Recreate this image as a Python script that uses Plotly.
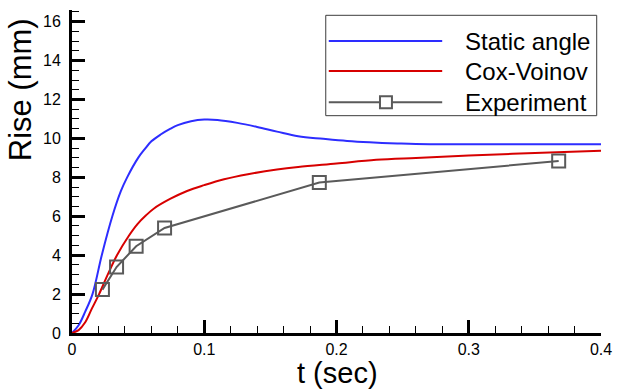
import plotly.graph_objects as go

# values
static_t = [0, 0.005, 0.01, 0.0155, 0.0225, 0.0305, 0.037, 0.0417, 0.05, 0.055,
            0.06, 0.067, 0.0745, 0.08, 0.09, 0.1, 0.11, 0.125, 0.14, 0.155,
            0.171, 0.19, 0.208, 0.225, 0.246, 0.26, 0.3, 0.35, 0.4]
static_rise = [0, 0.4, 1.1, 2.0, 4.0, 6.0, 7.3, 8.0, 9.0, 9.45,
               9.85, 10.2, 10.5, 10.68, 10.88, 10.97, 10.95, 10.8, 10.59, 10.35,
               10.11, 9.98, 9.87, 9.8, 9.74, 9.71, 9.70, 9.70, 9.70]

cox_t = [0, 0.005, 0.01, 0.015, 0.0205, 0.027, 0.034, 0.043, 0.0495, 0.056,
         0.062, 0.0745, 0.087, 0.1, 0.115, 0.133, 0.155, 0.171, 0.2, 0.23,
         0.26, 0.3, 0.35, 0.4]
cox_rise = [0, 0.15, 0.55, 1.25, 2.0, 3.0, 4.0, 5.0, 5.6, 6.05,
            6.4, 6.9, 7.3, 7.6, 7.9, 8.16, 8.4, 8.53, 8.71, 8.9,
            9.0, 9.12, 9.25, 9.36]

exp_t = [0.023, 0.0337, 0.0485, 0.070, 0.187, 0.368]
exp_rise = [2.23, 3.39, 4.46, 5.40, 7.73, 8.84]

legend_names = ['Static angle', 'Cox-Voinov', 'Experiment']

BLUE = 'rgb(45,45,255)'
RED = 'rgb(215,0,0)'
GRAY = 'rgb(90,90,90)'
FONT = 'Liberation Sans, Arial, Helvetica, sans-serif'

fig = go.Figure()

fig.add_trace(go.Scatter(x=static_t, y=static_rise, mode='lines',
                         line=dict(color=BLUE, width=2, shape='spline', smoothing=1),
                         name=legend_names[0], showlegend=False))
fig.add_trace(go.Scatter(x=cox_t, y=cox_rise, mode='lines',
                         line=dict(color=RED, width=2, shape='spline', smoothing=1),
                         name=legend_names[1], showlegend=False))
fig.add_trace(go.Scatter(x=exp_t, y=exp_rise, mode='lines+markers',
                         line=dict(color=GRAY, width=2),
                         marker=dict(symbol='square-open', size=13, color=GRAY,
                                     line=dict(width=2, color=GRAY)),
                         name=legend_names[2], showlegend=False))

# hand-drawn legend box (long line samples like the original)
shapes = [dict(type='rect', xref='paper', yref='paper', x0=0.4797, x1=0.9919,
               y0=0.6728, y1=0.9836, line=dict(color='rgb(60,60,60)', width=1),
               fillcolor='white', layer='above')]
annotations = []
rows_y = [0.904, 0.811, 0.7142]
colors = [BLUE, RED, GRAY]
for name, yy, c in zip(legend_names, rows_y, colors):
    shapes.append(dict(type='line', xref='paper', yref='paper', x0=0.4854, x1=0.6998,
                       y0=yy, y1=yy, line=dict(color=c, width=2), layer='above'))
    annotations.append(dict(text=name, xref='paper', yref='paper', x=0.7386, y=yy,
                            xanchor='left', yanchor='middle', showarrow=False,
                            font=dict(family=FONT, size=24, color='black')))
shapes.append(dict(type='rect', xref='paper', yref='paper',
                   x0=0.5935 - 0.0113, x1=0.5935 + 0.0113,
                   y0=0.7142 - 0.0186, y1=0.7142 + 0.0186,
                   line=dict(color=GRAY, width=2), fillcolor='white', layer='above'))

annotations.append(dict(text='Rise (mm)', xref='paper', yref='paper', x=-0.098, y=0.752,
                        textangle=-90, xanchor='center', yanchor='middle', showarrow=False,
                        font=dict(family=FONT, size=31, color='black')))
annotations.append(dict(text='t (sec)', xref='paper', yref='paper', x=0.501, y=-0.125,
                        xanchor='center', yanchor='middle', showarrow=False,
                        font=dict(family=FONT, size=29, color='black')))

axis_common = dict(showline=True, linecolor='black', linewidth=3, showgrid=False,
                   zeroline=False, ticks='inside', ticklen=13, tickwidth=2.5,
                   tickcolor='black', tickfont=dict(family=FONT, size=16, color='black'))

fig.update_layout(
    width=622, height=392,
    margin=dict(l=72, r=17, t=10, b=59),
    paper_bgcolor='white', plot_bgcolor='white',
    xaxis=dict(range=[0, 0.4], tick0=0, dtick=0.1,
               minor=dict(ticks='inside', ticklen=7, tickwidth=1, tickcolor='black', dtick=0.02),
               ticklabelstandoff=0, **axis_common),
    yaxis=dict(range=[0, 16.6], tick0=0, dtick=2,
               minor=dict(ticks='inside', ticklen=7, tickwidth=1, tickcolor='black', dtick=0.5),
               ticklabelstandoff=5, **axis_common),
    shapes=shapes,
    annotations=annotations,
    showlegend=False,
)

# page body has a default 8px margin; drop it so the figure fills the window
fig.write_html("out.html", config={'displayModeBar': False},
               post_script="document.body.style.margin='0';")
